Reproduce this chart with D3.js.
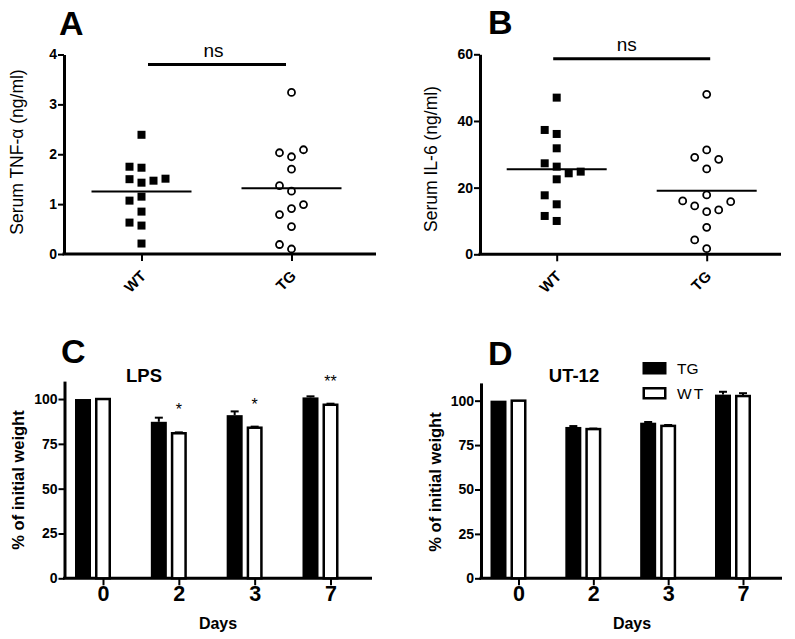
<!DOCTYPE html>
<html><head><meta charset="utf-8">
<script src="https://cdn.jsdelivr.net/npm/d3@7"></script>
<style>
html,body{margin:0;padding:0;background:#fff;}
svg{display:block;font-family:"Liberation Sans",Arial,Helvetica,sans-serif;}
</style></head><body>
<svg id="fig" width="795" height="639"></svg>
<script>
// ---------------- data ----------------
const groups = ["WT", "TG"];
const tnfWT = [2.39, 1.73, 1.75, 1.43, 1.50, 1.47, 1.51, 1.15, 1.07, 0.85, 0.57, 0.63, 0.21];
const tnfTG = [3.24, 1.95, 2.03, 2.09, 1.70, 1.26, 1.37, 0.91, 0.79, 0.99, 0.55, 0.10, 0.19];
const il6WT = [47.0, 36.1, 37.3, 31.8, 26.3, 27.3, 24.3, 24.8, 22.5, 15.0, 17.7, 10.0, 11.5];
const il6TG = [48.0, 31.3, 29.1, 28.5, 25.6, 17.8, 12.8, 14.5, 13.3, 15.8, 16.0, 8.1, 1.7, 4.3];
const tnfTicks = [0, 1, 2, 3, 4];
const il6Ticks = [0, 20, 40, 60];
const nsLabel = "ns";

const days = ["0", "2", "3", "7"];
const lpsTG = [100, 87.3, 91.0, 100.9];
const lpsTGerr = [0, 2.3, 2.1, 0.6];
const lpsWT = [100, 80.9, 84.0, 96.8];
const lpsWTerr = [0, 0.5, 0.6, 0.6];
const lpsSig = ["", "*", "*", "**"];
const utTG = [100, 85.2, 87.6, 103.4];
const utTGerr = [0, 0.5, 0.4, 1.6];
const utWT = [100, 84.0, 85.8, 102.6];
const utWTerr = [0, 0.3, 0.5, 1.6];
const utSig = ["", "", "", ""];
const weightTicks = [0, 25, 50, 75, 100];
const legendLabels = ["TG", "WT"];

// ---------------- drawing ----------------
const svg = d3.select("#fig");
const fmt = d3.format("d");

function styleAxis(a, w) {
  a.attr("font-family", null).attr("font-size", null);
  a.selectAll(".domain").attr("stroke", "#000").attr("stroke-width", w || 3);
  a.selectAll(".tick line").attr("stroke", "#000").attr("stroke-width", 2);
  a.selectAll("text").attr("fill", "#000");
}

function swarm(vals, y, D) {
  const placed = [];
  const order = [0, -1, 1, 2, -2, 3, -3];
  return vals.map(v => {
    const py = y(v);
    for (const s of order) {
      if (!placed.some(q => q.s === s && Math.abs(q.py - py) < D)) {
        placed.push({ s, py });
        return { v, s, py };
      }
    }
    return { v, s: 0, py };
  });
}

function scatterPanel(p) {
  const g = svg.append("g");
  const y = d3.scaleLinear().domain([0, p.max]).range([p.y0, p.y1]);
  const x = d3.scalePoint().domain(groups).range([p.cx0, p.cx1]);

  const ya = g.append("g").attr("transform", `translate(${p.axX},0)`)
    .call(d3.axisLeft(y).tickValues(p.ticks).tickFormat(fmt).tickSize(6).tickPadding(1).tickSizeOuter(0));
  styleAxis(ya);
  ya.selectAll("text").attr("font-size", 14).attr("font-weight", "bold");

  const xa = g.append("g").attr("transform", `translate(0,${p.y0})`)
    .call(d3.axisBottom(x).tickSize(7).tickSizeOuter(0));
  xa.select(".domain").remove();
  styleAxis(xa);
  xa.selectAll("text").attr("font-size", 15).attr("font-weight", "bold")
    .attr("text-anchor", "end").attr("y", 0).attr("dy", 0)
    .attr("transform", "translate(5,23) rotate(-45)");
  g.append("line").attr("x1", p.axX - 1.5).attr("x2", p.axEnd)
    .attr("y1", p.y0).attr("y2", p.y0).attr("stroke", "#000").attr("stroke-width", 3);

  // y label
  g.append("text").attr("transform", `translate(${p.labX},${p.labY}) rotate(-90)`)
    .attr("text-anchor", "middle").attr("font-size", 17.5).text(p.label);

  // points
  const sets = [{ k: "WT", vals: p.wt }, { k: "TG", vals: p.tg }];
  sets.forEach(set => {
    const pts = swarm(set.vals, y, 10.5);
    const cx = x(set.k);
    if (set.k === "WT") {
      g.selectAll(null).data(pts).enter().append("rect")
        .attr("x", d => cx + d.s * 12 - 4).attr("y", d => d.py - 4)
        .attr("width", 8).attr("height", 8).attr("fill", "#000");
    } else {
      g.selectAll(null).data(pts).enter().append("circle")
        .attr("cx", d => cx + d.s * 12).attr("cy", d => d.py).attr("r", 3.5)
        .attr("fill", "#fff").attr("stroke", "#000").attr("stroke-width", 1.8);
    }
    const m = d3.mean(set.vals);
    g.append("line").attr("x1", cx - 50).attr("x2", cx + 50)
      .attr("y1", y(m)).attr("y2", y(m)).attr("stroke", "#000").attr("stroke-width", 2);
  });

  // ns bar
  g.append("line").attr("x1", x("WT") + p.nsL).attr("x2", x("TG") + p.nsR)
    .attr("y1", p.nsY).attr("y2", p.nsY).attr("stroke", "#000").attr("stroke-width", 3);
  g.append("text").attr("x", (x("WT") + x("TG")) / 2 + p.nsDx).attr("y", p.nsY - 8)
    .attr("text-anchor", "middle").attr("font-size", 19).text(nsLabel);

  // panel letter
  g.append("text").attr("x", p.letX).attr("y", p.letY).attr("font-size", 34)
    .attr("font-weight", "bold").text(p.letter);
}

function barPanel(p) {
  const g = svg.append("g");
  const y = d3.scaleLinear().domain([0, 110]).range([p.y0, p.yTop]);
  const x = d3.scalePoint().domain(days).range([p.x0, p.x1]);

  const ya = g.append("g").attr("transform", `translate(${p.axX},0)`)
    .call(d3.axisLeft(y).tickValues(weightTicks).tickFormat(fmt).tickSize(6).tickPadding(1).tickSizeOuter(0));
  styleAxis(ya);
  ya.selectAll("text").attr("font-size", 14).attr("font-weight", "bold");

  const xa = g.append("g").attr("transform", `translate(0,${p.y0})`)
    .call(d3.axisBottom(x).tickSize(7).tickPadding(0).tickSizeOuter(0));
  xa.select(".domain").remove();
  styleAxis(xa);
  xa.selectAll("text").attr("font-size", 21.5).attr("font-weight", "bold");
  g.append("line").attr("x1", p.axX - 1.5).attr("x2", p.axEnd)
    .attr("y1", p.y0).attr("y2", p.y0).attr("stroke", "#000").attr("stroke-width", 3);

  const rows = days.map((d, i) => ({ d, i, tg: p.tg[i], tge: p.tge[i], wt: p.wt[i], wte: p.wte[i], sig: p.sig[i] }));
  const bw = 16, off = 20;

  // error bars (upward)
  const err = (cx, v, e) => {
    if (e <= 0) return;
    g.append("line").attr("x1", cx).attr("x2", cx).attr("y1", y(v)).attr("y2", y(v + e))
      .attr("stroke", "#000").attr("stroke-width", 2);
    g.append("line").attr("x1", cx - 4).attr("x2", cx + 4).attr("y1", y(v + e)).attr("y2", y(v + e))
      .attr("stroke", "#000").attr("stroke-width", 2);
  };
  rows.forEach(r => {
    err(x(r.d) - off, r.tg, r.tge);
    err(x(r.d), r.wt, r.wte);
  });

  g.selectAll(null).data(rows).enter().append("rect")
    .attr("x", r => x(r.d) - off - bw / 2).attr("y", r => y(r.tg))
    .attr("width", bw).attr("height", r => p.y0 - y(r.tg)).attr("fill", "#000");
  g.selectAll(null).data(rows).enter().append("rect")
    .attr("x", r => x(r.d) - bw / 2 + 1.25).attr("y", r => y(r.wt))
    .attr("width", bw - 2.5).attr("height", r => p.y0 - y(r.wt))
    .attr("fill", "#fff").attr("stroke", "#000").attr("stroke-width", 2.5);

  g.selectAll(null).data(rows.filter(r => r.sig)).enter().append("text")
    .attr("x", r => x(r.d)).attr("y", r => y(r.wt + r.wte) - 17)
    .attr("text-anchor", "middle").attr("font-size", 16).attr("fill", "#000").text(r => r.sig);

  // labels
  g.append("text").attr("transform", `translate(${p.labX},${p.labY}) rotate(-90)`)
    .attr("text-anchor", "middle").attr("font-size", 16.5).attr("font-weight", "bold")
    .text("% of initial weight");
  g.append("text").attr("x", p.daysX).attr("y", 629).attr("text-anchor", "middle")
    .attr("font-size", 16).attr("font-weight", "bold").text("Days");
  g.append("text").attr("x", p.titleX).attr("y", 382).attr("text-anchor", "middle")
    .attr("font-size", 18.5).attr("font-weight", "bold").text(p.title);
  g.append("text").attr("x", p.letX).attr("y", p.letY).attr("font-size", 34)
    .attr("font-weight", "bold").text(p.letter);
  return { g, x, y };
}

scatterPanel({
  max: 4, ticks: tnfTicks, y0: 254, y1: 54.5, cx0: 141.5, cx1: 291.5, axX: 64, axEnd: 376,
  wt: tnfWT, tg: tnfTG, label: "Serum TNF-\u03b1 (ng/ml)", labX: 23, labY: 152,
  nsY: 64.5, nsL: 6.5, nsR: -5.5, nsDx: -3, letter: "A", letX: 59, letY: 35
});
scatterPanel({
  max: 60, ticks: il6Ticks, y0: 254.3, y1: 54.3, cx0: 556.7, cx1: 706.7, axX: 480, axEnd: 781,
  wt: il6WT, tg: il6TG, label: "Serum IL-6 (ng/ml)", labX: 436.5, labY: 159,
  nsY: 58.7, nsL: -3.5, nsR: 3.5, nsDx: -5, letter: "B", letX: 488, letY: 33.5
});

barPanel({
  y0: 578.3, yTop: 381.1, x0: 103, x1: 330.5, axX: 64.5, axEnd: 372,
  tg: lpsTG, tge: lpsTGerr, wt: lpsWT, wte: lpsWTerr, sig: lpsSig,
  labX: 24, labY: 480, daysX: 218, title: "LPS", titleX: 144, letter: "C", letX: 61, letY: 363
});
const d = barPanel({
  y0: 578.3, yTop: 382.9, x0: 518.5, x1: 743, axX: 481, axEnd: 782,
  tg: utTG, tge: utTGerr, wt: utWT, wte: utWTerr, sig: utSig,
  labX: 440.5, labY: 482, daysX: 632, title: "UT-12", titleX: 574, letter: "D", letX: 488, letY: 365
});

// legend (panel D)
const lg = d.g.append("g");
legendLabels.forEach((lab, i) => {
  const yy = 362 + i * 25;
  if (i === 0) {
    lg.append("rect").attr("x", 642.5).attr("y", yy).attr("width", 24).attr("height", 12.5).attr("fill", "#000");
  } else {
    lg.append("rect").attr("x", 643.75).attr("y", yy + 1.25).attr("width", 21.5).attr("height", 10)
      .attr("fill", "#fff").attr("stroke", "#000").attr("stroke-width", 2.5);
  }
  lg.append("text").attr("x", 677).attr("y", yy + 11.5).attr("font-size", 15.5)
    .attr("letter-spacing", i === 1 ? 2 : 0).text(lab);
});
</script>
</body></html>
